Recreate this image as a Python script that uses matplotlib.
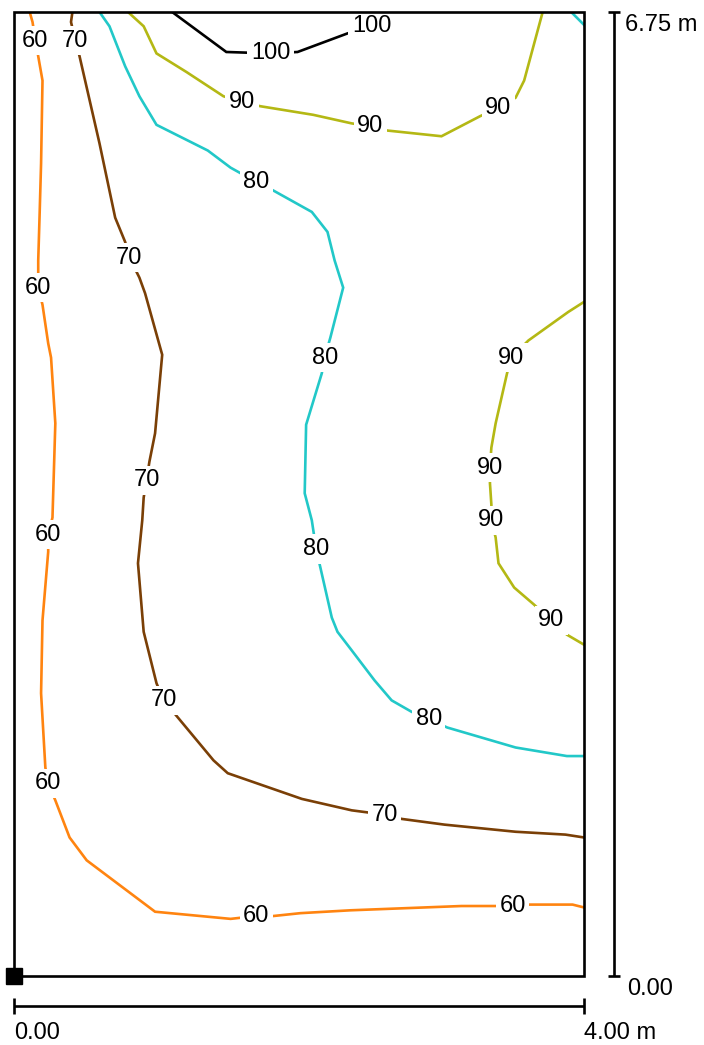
import matplotlib.pyplot as plt
from matplotlib.patches import Rectangle

plt.rcParams["font.family"] = ["Liberation Sans", "DejaVu Sans"]

ROOM_W = 4.00  # m
ROOM_L = 6.75  # m

# isolines (x, y in metres)
iso60_x = [0.11, 0.13, 0.15, 0.17, 0.20, 0.19, 0.18, 0.17, 0.17, 0.20, 0.24, 0.26, 0.29, 0.27, 0.24, 0.24,
           0.20, 0.19, 0.22, 0.24, 0.29, 0.39, 0.51, 0.99, 1.52, 1.70, 1.82, 2.01, 2.36, 3.14, 3.50, 3.62,
           3.92, 4.00]
iso60_y = [6.75, 6.68, 6.55, 6.44, 6.27, 5.69, 5.34, 5.01, 4.82, 4.70, 4.43, 4.33, 3.87, 3.21, 3.09, 2.97,
           2.49, 1.98, 1.46, 1.35, 1.23, 0.97, 0.81, 0.45, 0.40, 0.42, 0.42, 0.44, 0.46, 0.49, 0.49, 0.50,
           0.50, 0.48]

iso70_x = [0.41, 0.40, 0.43, 0.46, 0.60, 0.71, 0.78, 0.81, 0.88, 0.92, 1.04, 1.03, 0.99, 0.95, 0.93, 0.91,
           0.90, 0.87, 0.91, 1.00, 1.05, 1.15, 1.40, 1.50, 2.02, 2.37, 2.60, 2.72, 3.02, 3.52, 3.87, 4.00]
iso70_y = [6.75, 6.68, 6.55, 6.44, 5.83, 5.31, 5.14, 5.03, 4.89, 4.78, 4.35, 4.24, 3.80, 3.60, 3.47, 3.35,
           3.19, 2.89, 2.41, 2.05, 1.93, 1.81, 1.51, 1.42, 1.24, 1.16, 1.13, 1.10, 1.06, 1.01, 0.99, 0.97]

iso80_x = [0.60, 0.67, 0.78, 0.88, 1.00, 1.36, 1.52, 1.70, 1.82, 2.09, 2.20, 2.25, 2.31, 2.22, 2.18, 2.16,
           2.05, 2.04, 2.09, 2.12, 2.15, 2.23, 2.27, 2.37, 2.53, 2.65, 2.79, 2.91, 3.04, 3.52, 3.88, 4.00]
iso80_y = [6.75, 6.65, 6.37, 6.16, 5.96, 5.78, 5.66, 5.56, 5.50, 5.35, 5.21, 5.01, 4.82, 4.47, 4.33, 4.22,
           3.86, 3.38, 3.19, 2.99, 2.86, 2.51, 2.41, 2.28, 2.07, 1.93, 1.85, 1.80, 1.74, 1.60, 1.54, 1.54]

corner_x = [3.91, 4.00]
corner_y = [6.75, 6.66]

iso90a_x = [0.80, 0.91, 1.00, 1.21, 1.47, 1.60, 1.73, 2.10, 2.37, 2.50, 2.62, 3.00, 3.27, 3.40, 3.52, 3.58,
            3.71]
iso90a_y = [6.75, 6.65, 6.46, 6.33, 6.16, 6.12, 6.09, 6.03, 5.97, 5.95, 5.92, 5.88, 6.02, 6.08, 6.15, 6.27,
            6.75]

iso90b_x = [4.00, 3.89, 3.61, 3.49, 3.46, 3.38, 3.35, 3.34, 3.34, 3.35, 3.35, 3.38, 3.40, 3.51, 3.65, 3.77,
            3.88, 4.00]
iso90b_y = [4.72, 4.65, 4.45, 4.33, 4.22, 3.87, 3.70, 3.56, 3.45, 3.30, 3.19, 3.07, 2.89, 2.72, 2.60, 2.49,
            2.39, 2.32]

iso100_x = [1.11, 1.49, 1.80, 1.99, 2.34, 2.51]
iso100_y = [6.75, 6.47, 6.46, 6.47, 6.60, 6.65]

# label positions on the lines
lab60_x = [0.15, 0.17, 0.24, 0.24, 1.70, 3.50]
lab60_y = [6.55, 4.82, 3.09, 1.35, 0.42, 0.49]
lab70_x = [0.43, 0.81, 0.93, 1.05, 2.60]
lab70_y = [6.55, 5.03, 3.47, 1.93, 1.13]
lab80_x = [1.70, 2.18, 2.12, 2.91]
lab80_y = [5.56, 4.33, 2.99, 1.80]
lab90_x = [1.60, 2.50, 3.40, 3.49, 3.34, 3.35, 3.77]
lab90_y = [6.12, 5.95, 6.08, 4.33, 3.56, 3.19, 2.49]
lab100_x = [1.80, 2.51]
lab100_y = [6.46, 6.65]

C60 = "#ff8410"
C70 = "#7a3f06"
C80 = "#22c8c8"
C90 = "#b4b814"
C100 = "#000000"

FS = 17

fig = plt.figure(figsize=(7.04, 10.45), dpi=100)
ax = fig.add_axes([14 / 704, 69 / 1045, 570 / 704, 964 / 1045])
ax.set_xlim(0, ROOM_W)
ax.set_ylim(0, ROOM_L)
ax.axis("off")

lines = [
    (iso60_x, iso60_y, C60),
    (iso70_x, iso70_y, C70),
    (iso80_x, iso80_y, C80),
    (corner_x, corner_y, C80),
    (iso90a_x, iso90a_y, C90),
    (iso90b_x, iso90b_y, C90),
    (iso100_x, iso100_y, C100),
]
for xs, ys, c in lines:
    ax.plot(xs, ys, color=c, lw=1.9, solid_joinstyle="miter", zorder=2)

labels = [
    (lab60_x, lab60_y, "60"),
    (lab70_x, lab70_y, "70"),
    (lab80_x, lab80_y, "80"),
    (lab90_x, lab90_y, "90"),
    (lab100_x, lab100_y, "100"),
]
for xs, ys, txt in labels:
    for x, y in zip(xs, ys):
        ax.text(x, y, txt, fontsize=FS, ha="center", va="center", zorder=4,
                bbox=dict(facecolor="white", edgecolor="none", pad=2.5))

# room outline
ax.add_patch(Rectangle((0, 0), ROOM_W, ROOM_L, fill=False, edgecolor="black", lw=1.9,
                       clip_on=False, zorder=5))
# origin marker
ax.plot([0], [0], marker="s", ms=11.5, color="black", clip_on=False, zorder=6)

# dimension bars
kw = dict(color="black", lw=1.9, clip_on=False, solid_capstyle="butt")
bx = 4.21
ax.plot([bx, bx], [0, ROOM_L], **kw)
ax.plot([bx - 0.045, bx + 0.045], [ROOM_L, ROOM_L], **kw)
ax.plot([bx - 0.045, bx + 0.045], [0, 0], **kw)
by = -0.21
ax.plot([0, ROOM_W], [by, by], **kw)
ax.plot([0, 0], [by - 0.055, by + 0.055], **kw)
ax.plot([ROOM_W, ROOM_W], [by - 0.055, by + 0.055], **kw)

ax.text(4.29, ROOM_L - 0.09, "6.75 m", fontsize=FS, ha="left", va="center", clip_on=False)
ax.text(4.30, -0.09, "0.00", fontsize=FS, ha="left", va="center", clip_on=False)
ax.text(0.0, -0.40, "0.00", fontsize=FS, ha="left", va="center", clip_on=False)
ax.text(ROOM_W, -0.40, "4.00 m", fontsize=FS, ha="left", va="center", clip_on=False)

plt.savefig("out.png", dpi=100)
